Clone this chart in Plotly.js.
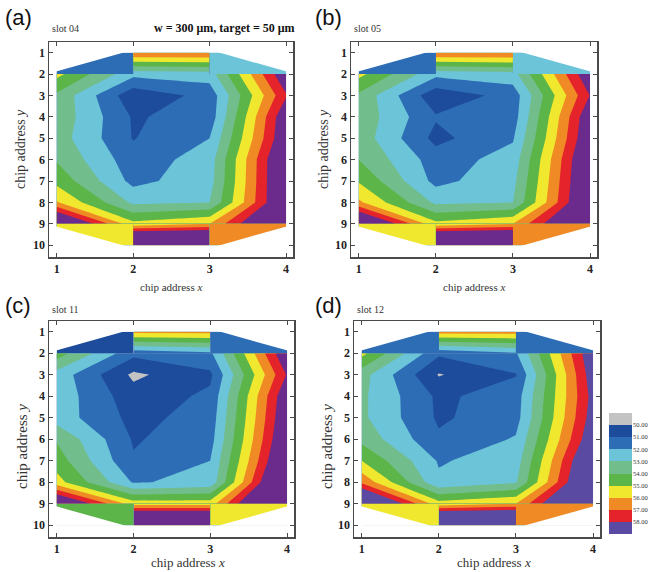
<!DOCTYPE html>
<html><head><meta charset="utf-8">
<script src="https://cdn.plot.ly/plotly-3.0.1.min.js"></script>
<style>html,body{margin:0;padding:0;background:#fff}#chart{width:664px;height:572px}</style>
</head><body><div id="chart"></div>
<script>
// ---------- data ----------
const xChip = [1, 2, 3, 4];
const yRows = [2, 3, 4, 5, 6, 7, 8, 9];
const xInner = [2, 3];
const xLeft = [1, 2];
const xRight = [3, 4];
const yTop = [1, 2];
const yBottom = [9, 10];
const xTicks = [1, 2, 3, 4];
const yTicks = [1, 2, 3, 4, 5, 6, 7, 8, 9, 10];
const edgeChipSpan = 0.9;   // extent of the edge chips (rows 1 and 10)

const levels = [50, 51, 52, 53, 54, 55, 56, 57, 58];
const levelLabels = ['50.00', '51.00', '52.00', '53.00', '54.00', '55.00', '56.00', '57.00', '58.00'];
const legendBands = [49.5, 50.5, 51.5, 52.5, 53.5, 54.5, 55.5, 56.5, 57.5, 58.5];

const bandColorsABC = ['#c3c3c3', '#1d4c9c', '#2d6db6', '#6cc4d8', '#72bd8c', '#5cb548', '#f0e82e', '#ef8a24', '#e5232a', '#6a2b8c'];
const bandColorsD   = ['#c3c3c3', '#1d4c9c', '#2d6db6', '#6cc4d8', '#72bd8c', '#5cb548', '#f0e82e', '#ef8a24', '#e5232a', '#5a4aa2'];

const panelLetters = ['(a)', '(b)', '(c)', '(d)'];
const slotNames = ['slot 04', 'slot 05', 'slot 11', 'slot 12'];
const conditionText = 'w = 300 μm, target = 50 μm';

// thickness (µm) at chip rows y = 2..9, columns x = 1..4
const slot04Main = [
  [55.3, 52.3, 52.5, 59.0],
  [53.8, 50.3, 51.35, 57.9],
  [53.7, 50.9, 51.4, 59.0],
  [53.5, 50.95, 52.0, 59.1],
  [53.9, 51.4, 52.5, 59.8],
  [54.7, 51.7, 52.6, 59.8],
  [56.1, 52.8, 53.0, 59.7],
  [60.5, 55.3, 56.0, 61.0]
];
const slot04Top = [57.0, 57.0];
const slot04Bottom = [63.0, 63.0];
const slot04Corners = [51.5, 52.5, 55.5, 56.5];

const slot05Main = [
  [55.3, 52.3, 52.6, 59.0],
  [53.8, 50.3, 51.4, 58.05],
  [53.7, 51.1, 51.5, 59.0],
  [53.6, 50.7, 51.9, 59.2],
  [54.0, 51.5, 52.4, 59.7],
  [54.9, 51.7, 52.7, 59.8],
  [56.2, 52.8, 53.0, 59.9],
  [60.5, 55.3, 56.0, 61.0]
];
const slot05Top = [57.0, 57.0];
const slot05Bottom = [63.0, 63.0];
const slot05Corners = [51.5, 52.5, 55.5, 56.5];

const slot11Main = [
  [54.5, 51.3, 51.8, 59.1],
  [52.6, 49.8, 50.8, 58.1],
  [52.64, 50.4, 51.2, 59.0],
  [52.55, 50.7, 51.4, 59.2],
  [53.9, 50.9, 51.6, 59.5],
  [54.5, 51.1, 52.0, 60.0],
  [55.4, 51.9, 52.3, 61.0],
  [60.0, 55.5, 55.5, 62.4]
];
const slot11Top = [56.3, 56.3];
const slot11Bottom = [63.0, 63.0];
const slot11Corners = [50.5, 51.5, 54.5, 55.5];

const slot12Main = [
  [55.3, 51.2, 51.9, 59.0],
  [53.4, 49.93, 50.95, 58.7],
  [53.2, 50.8, 51.5, 58.4],
  [53.2, 50.85, 51.6, 58.6],
  [53.7, 51.15, 52.1, 59.0],
  [55.0, 51.9, 52.5, 60.0],
  [56.8, 52.2, 52.9, 60.5],
  [61.0, 55.4, 56.0, 61.9]
];
const slot12Top = [56.4, 56.4];
const slot12Bottom = [63.0, 63.0];
const slot12Corners = [51.5, 51.5, 55.5, 56.5];

// ---------- build ----------
const serif = 'Liberation Serif, Times New Roman, serif';
function scaleOf(colors) { return colors.map((c, i) => [i / (colors.length - 1), c]); }

function contour(x, y, z, ax, colors) {
  return {
    type: 'contour', x: x, y: y, z: z,
    xaxis: 'x' + ax.n, yaxis: 'y' + ax.n,
    autocontour: false,
    contours: {start: levels[0], end: levels[levels.length - 1], size: 1, coloring: 'fill', showlines: false},
    line: {width: 0, smoothing: 0},
    colorscale: scaleOf(colors), showscale: false, hoverinfo: 'skip'
  };
}
function flat(v) { return [[v, v], [v, v]]; }

const panels = [
  {main: slot04Main, top: slot04Top, bottom: slot04Bottom, corners: slot04Corners, colors: bandColorsABC},
  {main: slot05Main, top: slot05Top, bottom: slot05Bottom, corners: slot05Corners, colors: bandColorsABC},
  {main: slot11Main, top: slot11Top, bottom: slot11Bottom, corners: slot11Corners, colors: bandColorsABC},
  {main: slot12Main, top: slot12Top, bottom: slot12Bottom, corners: slot12Corners, colors: bandColorsD}
];

// geometry (pixels in the 664x572 page)
const W = 664, H = 572;
const frames = [
  {l: 49, r: 293, t: 42, b: 257},
  {l: 351, r: 597, t: 42, b: 257},
  {l: 49, r: 294, t: 321, b: 537},
  {l: 354, r: 600, t: 321, b: 537}
];
const titlePos = [
  {xx: 171, xy: 287, xs: 11, yx: 21, yy: 149, ys: 14},
  {xx: 474, xy: 287, xs: 11, yx: 324, yy: 149, ys: 14},
  {xx: 188, xy: 562, xs: 13, yx: 22, yy: 447, ys: 15},
  {xx: 494, xy: 562, xs: 13, yx: 327, yy: 447, ys: 15}
];

const data = [];
const shapes = [];
const annotations = [];
const layout = {
  width: W, height: H, margin: {l: 0, r: 0, t: 0, b: 0},
  paper_bgcolor: '#fff', plot_bgcolor: '#fff', showlegend: false,
  font: {family: serif, color: '#222'}
};

panels.forEach((p, i) => {
  const ax = {n: i === 0 ? '' : String(i + 1)};
  const m = p.main;
  const last = m.length - 1;
  data.push(contour(xChip, yRows, m, ax, p.colors));
  data.push(contour(xInner, yTop, [p.top, [m[0][1], m[0][2]]], ax, p.colors));
  data.push(contour(xInner, yBottom, [[m[last][1], m[last][2]], p.bottom], ax, p.colors));
  data.push(contour(xLeft, yTop, flat(p.corners[0]), ax, p.colors));
  data.push(contour(xRight, yTop, flat(p.corners[1]), ax, p.colors));
  data.push(contour(xLeft, yBottom, flat(p.corners[2]), ax, p.colors));
  data.push(contour(xRight, yBottom, flat(p.corners[3]), ax, p.colors));

  // white masks outside the wafer outline (corner chips absent)
  const e = 0.03, s = edgeChipSpan;
  const x0 = xChip[0], x1 = xChip[xChip.length - 1], y0 = yTop[0], y1 = yBottom[1];
  const xr = 'x' + ax.n, yr = 'y' + ax.n;
  const tri = (ax_, ay_, bx, by, cx, cy) => ({type: 'path', xref: xr, yref: yr, layer: 'above',
    path: `M${ax_},${ay_} L${bx},${by} L${cx},${cy} Z`, fillcolor: '#fff', line: {width: 0}});
  shapes.push(tri(x0 - e, y0 - e, x0 + s, y0 - e, x0 - e, y0 + s));
  shapes.push(tri(x1 + e, y0 - e, x1 - s, y0 - e, x1 + e, y0 + s));
  shapes.push(tri(x0 - e, y1 + e, x0 + s, y1 + e, x0 - e, y1 - s));
  shapes.push(tri(x1 + e, y1 + e, x1 - s, y1 + e, x1 + e, y1 - s));

  const f = frames[i];
  const common = {showline: true, linecolor: '#4a4a4a', linewidth: 1.5, mirror: 'ticks',
    ticks: 'inside', ticklen: 4, tickwidth: 1, tickcolor: '#4a4a4a', showgrid: false, zeroline: false,
    fixedrange: true, tickfont: {family: serif, size: 12, color: '#222', weight: 'bold'}};
  layout['xaxis' + ax.n] = Object.assign({}, common, {
    domain: [f.l / W, f.r / W], anchor: 'y' + ax.n, range: [0.9, 4.09], tickvals: xTicks, ticktext: xTicks.map(String)});
  layout['yaxis' + ax.n] = Object.assign({}, common, {
    domain: [1 - f.b / H, 1 - f.t / H], anchor: 'x' + ax.n, range: [10.55, 0.5], tickvals: yTicks, ticktext: yTicks.map(String)});

  const tp = titlePos[i];
  const row = i < 2 ? 0 : 1;
  const labelY = row === 0 ? 18 : 305;
  const slotY = row === 0 ? 28 : 309;
  const letterX = (i % 2 === 0) ? 3 : 313;
  annotations.push({xref: 'paper', yref: 'paper', x: letterX / W, y: 1 - labelY / H, xanchor: 'left', yanchor: 'middle',
    text: panelLetters[i], showarrow: false, font: {family: 'Liberation Sans, Arial, sans-serif', size: 22, color: '#111'}});
  annotations.push({xref: 'paper', yref: 'paper', x: (f.l + 1) / W, y: 1 - slotY / H, xanchor: 'left', yanchor: 'middle',
    text: slotNames[i], showarrow: false, font: {family: serif, size: 10, color: '#333'}});
  annotations.push({xref: 'paper', yref: 'paper', x: tp.xx / W, y: 1 - tp.xy / H, xanchor: 'center', yanchor: 'middle',
    text: 'chip address <i>x</i>', showarrow: false, font: {family: serif, size: tp.xs, color: '#333'}});
  annotations.push({xref: 'paper', yref: 'paper', x: tp.yx / W, y: 1 - tp.yy / H, xanchor: 'center', yanchor: 'middle',
    text: 'chip address <i>y</i>', textangle: -90, showarrow: false, font: {family: serif, size: tp.ys, color: '#333'}});
});

annotations.push({xref: 'paper', yref: 'paper', x: 297 / W, y: 1 - 28 / H, xanchor: 'right', yanchor: 'middle',
  text: '<b>' + conditionText + '</b>', showarrow: false, font: {family: serif, size: 12, color: '#111'}});

// colour key
data.push({
  type: 'heatmap', x: [0], y: legendBands, z: legendBands.map(v => [v]),
  xaxis: 'x5', yaxis: 'y5', zmin: legendBands[0], zmax: legendBands[legendBands.length - 1],
  colorscale: scaleOf(bandColorsD), showscale: false, hoverinfo: 'skip'
});
layout.xaxis5 = {domain: [609 / W, 632 / W], anchor: 'y5', visible: false, fixedrange: true};
layout.yaxis5 = {domain: [1 - 534 / H, 1 - 413 / H], anchor: 'x5', side: 'right', range: [59, 49],
  tickvals: levels, ticktext: levelLabels, ticks: '', showline: false, showgrid: false, zeroline: false,
  fixedrange: true, tickfont: {family: serif, size: 6.5, color: '#333'}};

layout.shapes = shapes;
layout.annotations = annotations;

Plotly.newPlot('chart', data, layout, {displayModeBar: false, staticPlot: true});
</script></body></html>
